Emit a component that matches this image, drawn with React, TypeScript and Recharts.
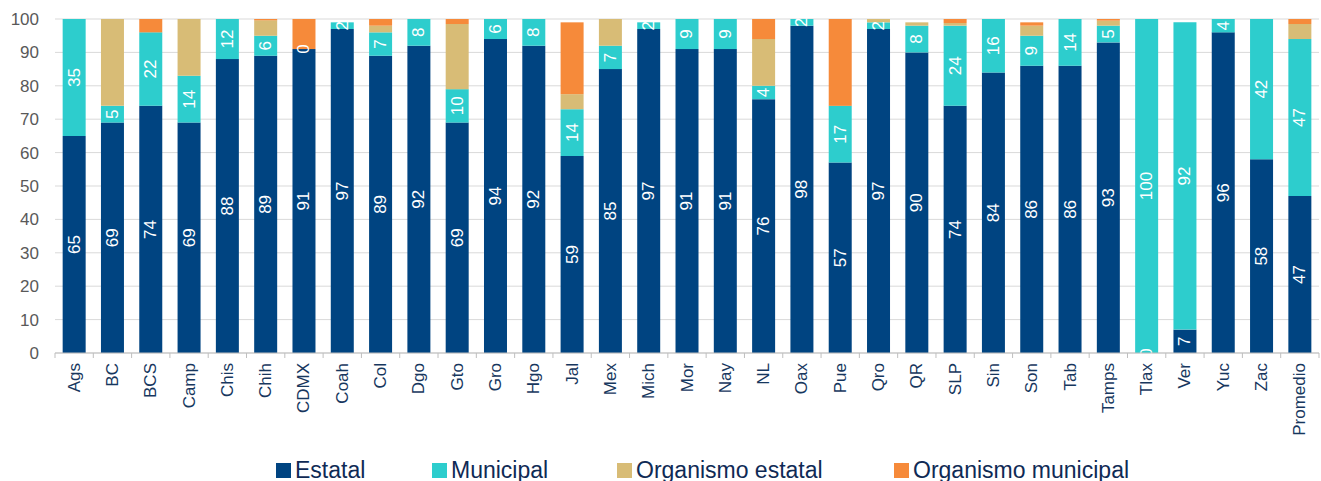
import { BarChart, Bar, XAxis, YAxis, CartesianGrid, Legend } from 'recharts';

const categories = ['Ags', 'BC', 'BCS', 'Camp', 'Chis', 'Chih', 'CDMX', 'Coah', 'Col', 'Dgo', 'Gto', 'Gro', 'Hgo', 'Jal', 'Mex', 'Mich', 'Mor', 'Nay', 'NL', 'Oax', 'Pue', 'Qro', 'QR', 'SLP', 'Sin', 'Son', 'Tab', 'Tamps', 'Tlax', 'Ver', 'Yuc', 'Zac', 'Promedio'];
const estatal = [65, 69, 74, 69, 88, 89, 91, 97, 89, 92, 69, 94, 92, 59, 85, 97, 91, 91, 76, 98, 57, 97, 90, 74, 84, 86, 86, 93, 0, 7, 96, 58, 47];
const municipal = [35, 5, 22, 14, 12, 6, 0, 2, 7, 8, 10, 6, 8, 14, 7, 2, 9, 9, 4, 2, 17, 2, 8, 24, 16, 9, 14, 5, 100, 92, 4, 42, 47];
const orgEstatal = [0, 26, 0, 17, 0, 4.6, 0, 0, 2, 0, 19.5, 0, 0, 4.5, 8, 0, 0, 0, 14, 0, 0, 1, 1, 0.8, 0, 3, 0, 1.5, 0, 0, 0, 0, 4.5];
const orgMunicipal = [0, 0, 4, 0, 0, 0.4, 9, 0, 2, 0, 1.5, 0, 0, 21.5, 0, 0, 0, 0, 6, 0, 26, 0, 0, 1.2, 0, 1, 0, 0.5, 0, 0, 0, 0, 1.5];
const yTicks = [0, 10, 20, 30, 40, 50, 60, 70, 80, 90, 100];

const series = [
  { key: 'Estatal', color: '#004481' },
  { key: 'Municipal', color: '#2dcdcd' },
  { key: 'Organismo estatal', color: '#d8bc76' },
  { key: 'Organismo municipal', color: '#f68a3a' },
];

const data = categories.map((c, i) => ({
  name: c,
  Estatal: estatal[i],
  Municipal: municipal[i],
  'Organismo estatal': orgEstatal[i],
  'Organismo municipal': orgMunicipal[i],
}));

const FONT = '"Liberation Sans", Arial, sans-serif';
const W = 1321, H = 481;
const LEFT = 55, RIGHT = 2;
const BAND = (W - LEFT - RIGHT) / categories.length;

function lbl(cx: number, cy: number, v: number, k: string) {
  return (
    <text key={k} x={cx} y={cy} transform={`rotate(-90 ${cx} ${cy})`} textAnchor="middle"
      dominantBaseline="central" fill="#ffffff" fontSize={17} fontFamily={FONT}>
      {v}
    </text>
  );
}

// last series: draws its own segment, then the labels of Estatal and Municipal on top of everything
function TopShape(p: any) {
  const bg = p.background;
  const i = p.index;
  const cx = p.x + p.width / 2;
  const yv = (v: number) => bg.y + bg.height * (1 - v / 100);
  const e = estatal[i], m = municipal[i];
  return (
    <g>
      {p.height > 0 && <rect x={p.x} y={p.y} width={p.width} height={p.height} fill={p.fill} />}
      {lbl(cx, yv(e / 2), e, 'e')}
      {lbl(cx, yv(e + m / 2), m, 'm')}
    </g>
  );
}

function XTick({ x, y, payload, index }: any) {
  const last = index === categories.length - 1;
  return (
    <g>
      <line x1={x - BAND / 2} x2={x - BAND / 2} y1={y} y2={y + 5} stroke="#bfbfbf" />
      {last && <line x1={x + BAND / 2} x2={x + BAND / 2} y1={y} y2={y + 5} stroke="#bfbfbf" />}
      <text x={x} y={y + 10} transform={`rotate(-90 ${x} ${y + 10})`} textAnchor="end"
        dominantBaseline="central" fill="#17375e" fontSize={17} fontFamily={FONT}>
        {payload.value}
      </text>
    </g>
  );
}

const legendPos = [276, 432, 617, 894];

function LegendBox() {
  return (
    <div style={{ position: 'relative', height: 33, width: W }}>
      {series.map((s, i) => (
        <div key={s.key} style={{ position: 'absolute', left: legendPos[i], top: 15, height: 15, display: 'flex', alignItems: 'center', whiteSpace: 'nowrap' }}>
          <span style={{ width: 15, height: 15, background: s.color, display: 'inline-block', marginRight: 4 }} />
          <span style={{ fontFamily: FONT, fontSize: 23, color: '#0f2a55', lineHeight: '15px' }}>{s.key}</span>
        </div>
      ))}
    </div>
  );
}

export default function App() {
  return (
    <div style={{ position: 'absolute', left: 0, top: 0, width: W, height: H, background: '#fff' }}>
      <BarChart width={W} height={H} data={data} barCategoryGap="20%"
        margin={{ top: 19, right: RIGHT, left: 0, bottom: 0 }}>
        <CartesianGrid vertical={false} stroke="#d9d9d9" />
        <XAxis dataKey="name" interval={0} height={95} tickSize={0} tickMargin={0}
          axisLine={{ stroke: '#bfbfbf' }} tickLine={false} tick={<XTick />} />
        <YAxis domain={[0, 100]} ticks={yTicks} width={LEFT} axisLine={false} tickLine={false}
          tickSize={0} tickMargin={16} tick={{ fontSize: 17, fill: '#595959', fontFamily: FONT }} />
        <Legend verticalAlign="bottom" height={33} content={<LegendBox />}
          wrapperStyle={{ left: 0, bottom: 0, width: W }} />
        {series.map((s, k) => (
          <Bar key={s.key} dataKey={s.key} stackId="a" fill={s.color} isAnimationActive={false}
            shape={k === series.length - 1 ? <TopShape /> : undefined} />
        ))}
      </BarChart>
    </div>
  );
}
